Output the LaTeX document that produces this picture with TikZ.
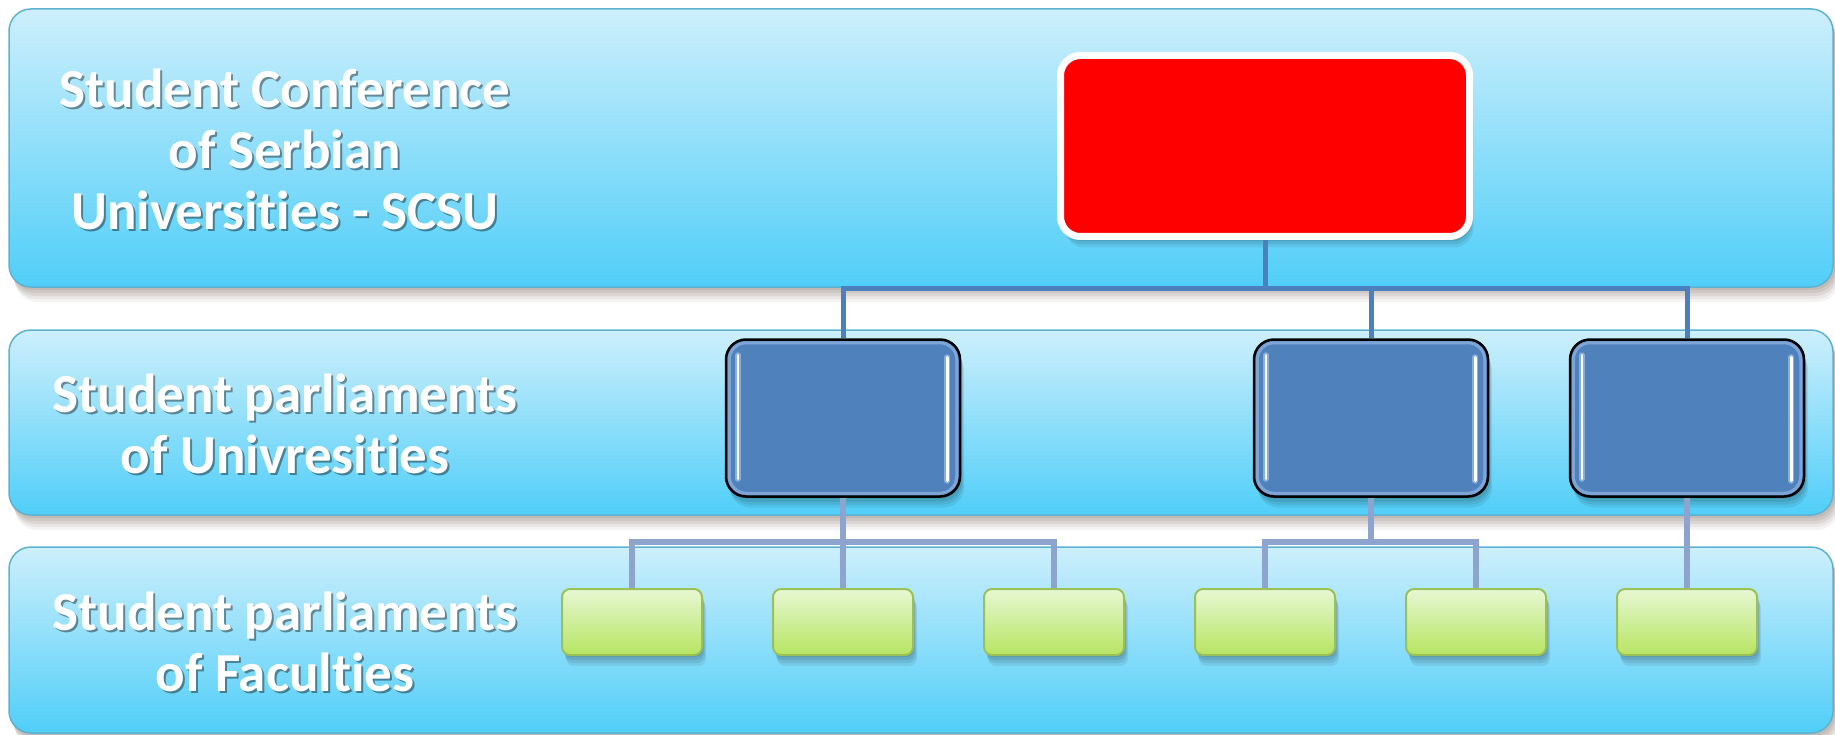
\documentclass[tikz,border=0pt]{standalone}
\usepackage{fontspec}
\setmainfont{Carlito}[Ligatures=NoCommon]
\usetikzlibrary{shadows,calc}
\definecolor{bandtop}{RGB}{205,239,252}
\definecolor{bandbot}{RGB}{80,206,248}
\definecolor{bandline}{RGB}{95,178,207}
\definecolor{shbrown}{RGB}{90,70,60}
\definecolor{uniblue}{RGB}{79,129,189}
\definecolor{uniglow}{RGB}{140,175,222}
\definecolor{hlglow}{RGB}{175,205,240}
\definecolor{topline}{RGB}{76,127,189}
\definecolor{lowline}{RGB}{141,165,206}
\definecolor{gtop}{RGB}{231,247,211}
\definecolor{gbot}{RGB}{183,229,98}
\definecolor{gline}{RGB}{156,192,88}
\tikzset{
  bandshadow/.style={
    general shadow={fill=shbrown, opacity=0.10, shadow xshift=2pt, shadow yshift=-3pt},
    general shadow={fill=shbrown, opacity=0.10, shadow xshift=3pt, shadow yshift=-6pt},
    general shadow={fill=shbrown, opacity=0.10, shadow xshift=4pt, shadow yshift=-9pt},
    general shadow={fill=shbrown, opacity=0.08, shadow xshift=5pt, shadow yshift=-12pt},
    general shadow={fill=shbrown, opacity=0.06, shadow xshift=6pt, shadow yshift=-15pt}},
  boxshadow/.style={
    general shadow={fill=black, opacity=0.09, shadow xshift=1pt, shadow yshift=-2pt},
    general shadow={fill=black, opacity=0.09, shadow xshift=2pt, shadow yshift=-5pt},
    general shadow={fill=black, opacity=0.08, shadow xshift=3pt, shadow yshift=-8pt},
    general shadow={fill=black, opacity=0.07, shadow xshift=4pt, shadow yshift=-11pt}},
  band/.style={rectangle, rounded corners=22pt, top color=bandtop, bottom color=bandbot,
    draw=bandline, line width=1.5pt, inner sep=0pt, minimum width=1824pt, bandshadow},
  redbox/.style={rectangle, draw=white, line width=7pt, fill=red, rounded corners=20pt,
    minimum width=409pt, minimum height=181pt, inner sep=0pt, boxshadow},
  unibox/.style={rectangle, draw=black, line width=2.5pt, fill=uniblue, rounded corners=20pt,
    minimum width=234pt, minimum height=157pt, inner sep=0pt, boxshadow},
  facbox/.style={rectangle, draw=gline, line width=2pt, top color=gtop, bottom color=gbot,
    rounded corners=8pt, minimum width=140pt, minimum height=66pt, inner sep=0pt, boxshadow},
  topconn/.style={draw=topline, line width=5pt},
  lowconn/.style={draw=lowline, line width=6pt},
  glow/.style={draw=uniglow, line width=3pt, rounded corners=17pt, opacity=0.8},
  hlback/.style={draw=hlglow, line width=6pt, line cap=round, opacity=0.6},
  hlfront/.style={draw=white, line width=2.5pt, line cap=round},
  lab/.style={text=white, font=\fontsize{55}{61}\selectfont\bfseries, align=center, inner sep=0pt},
  labsh/.style={lab, text=black, opacity=0.4}
}
\begin{document}
\begin{tikzpicture}[x=1pt,y=-1pt]
\useasboundingbox (0,0) rectangle (1835,735);
% bands
\node[band, minimum height=278pt] (b1) at (921,148) {};
\node[band, minimum height=185pt] (b2) at (921,422.5) {};
\node[band, minimum height=186pt] (b3) at (921,640) {};
% labels
\node[labsh] (l1s) at (287,151.5) {Student Conference\\of Serbian\\Universities - SCSU};
\node[lab] (l1) at (285,149) {Student Conference\\of Serbian\\Universities - SCSU};
\node[labsh] (l2s) at (287,426) {Student parliaments\\of Univresities};
\node[lab] (l2) at (285,423.5) {Student parliaments\\of Univresities};
\node[labsh] (l3s) at (287,644) {Student parliaments\\of Faculties};
\node[lab] (l3) at (285,641.5) {Student parliaments\\of Faculties};
\coordinate (busT) at (1265,288);
\coordinate (busA) at (843,542);
\coordinate (busB) at (1371,542);
% boxes
\node[redbox] (scsu) at (1265,146) {};
\node[unibox] (u1) at (843,418) {};
\node[unibox] (u2) at (1371,418) {};
\node[unibox] (u3) at (1687,418) {};
\node[facbox] (f1) at (632,622) {};
\node[facbox] (f2) at (843,622) {};
\node[facbox] (f3) at (1054,622) {};
\node[facbox] (f4) at (1265,622) {};
\node[facbox] (f5) at (1476,622) {};
\node[facbox] (f6) at (1687,622) {};
% top connectors
\draw[topconn] (scsu.south) -- (busT);
\draw[topconn] (u1.north) -- (u1.north |- busT) -- (u3.north |- busT) -- (u3.north);
\draw[topconn] (u2.north) -- (u2.north |- busT);
% lower connectors
\draw[lowconn] (u1.south) -- (f2.north);
\draw[lowconn] (f1.north) |- (busA) -| (f3.north);
\draw[lowconn] (u2.south) -- (busB);
\draw[lowconn] (f4.north) |- (busB) -| (f5.north);
\draw[lowconn] (u3.south) -- (f6.north);
% glossy details on university boxes
\foreach \u in {u1,u2,u3}{
  \draw[glow] ($(\u.north west)+(4.5,4.5)$) rectangle ($(\u.south east)+(-4.5,-4.5)$);
  \draw[hlback] ($(\u.north west)+(13,17)$) -- ($(\u.south west)+(13,-19)$);
  \draw[hlfront] ($(\u.north west)+(13,17)$) -- ($(\u.south west)+(13,-19)$);
  \draw[hlback] ($(\u.north east)+(-14,19)$) -- ($(\u.south east)+(-14,-17)$);
  \draw[hlfront] ($(\u.north east)+(-14,19)$) -- ($(\u.south east)+(-14,-17)$);
}
\end{tikzpicture}
\end{document}
